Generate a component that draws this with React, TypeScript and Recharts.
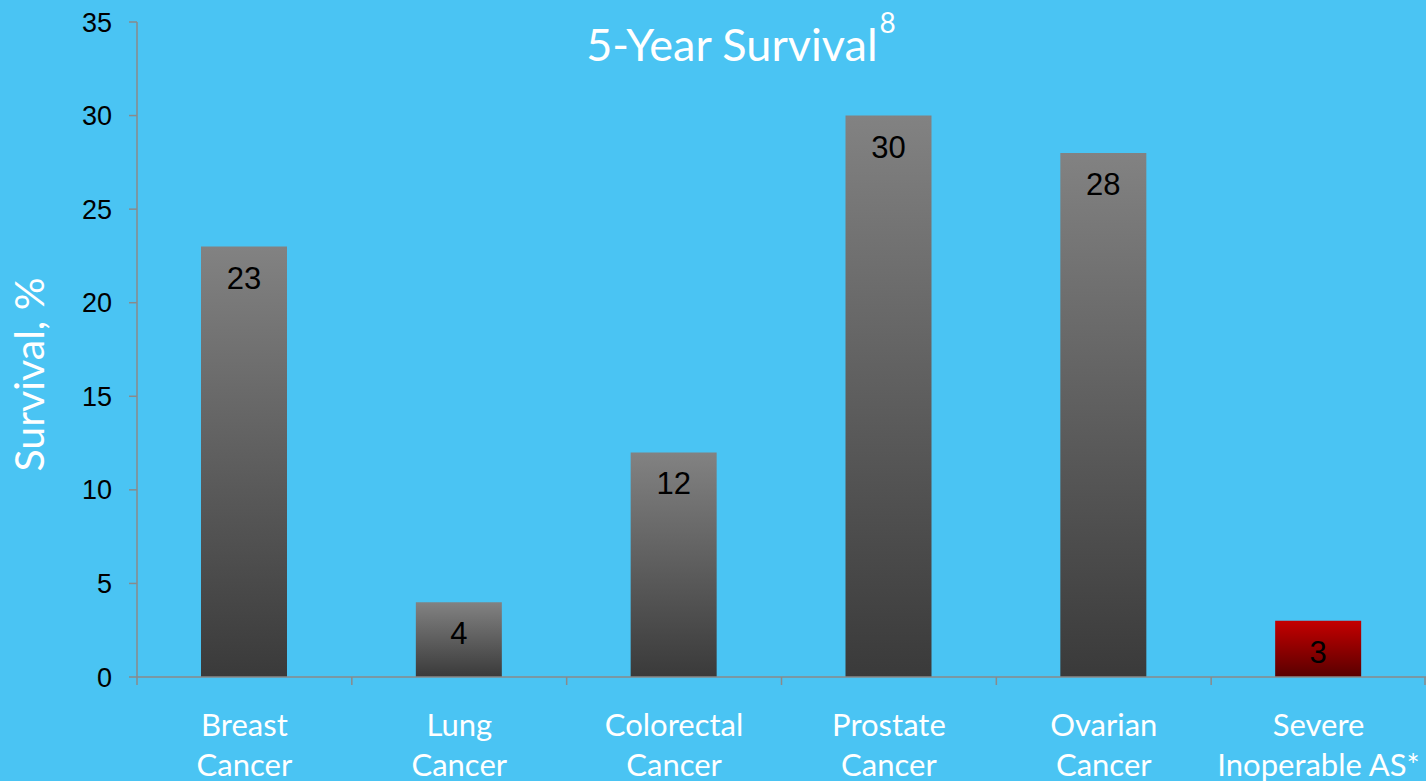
import { BarChart, Bar, XAxis, YAxis, Cell, LabelList } from 'recharts';

const categories = ['Breast\nCancer', 'Lung\nCancer', 'Colorectal\nCancer', 'Prostate\nCancer', 'Ovarian\nCancer', 'Severe\nInoperable AS*'];
const survival = [23, 4, 12, 30, 28, 3];
const highlighted = ['Severe\nInoperable AS*'];
const yTicks = [0, 5, 10, 15, 20, 25, 30, 35];

const data = categories.map((name, i) => ({ name, value: survival[i] }));

const BG = '#4AC4F3';
const AXIS = '#8a8a8a';
const W = 1426;
const H = 781;
const LEFT = 137;
const SANS = "Lato, 'Open Sans', sans-serif";

function CategoryTick(props: any) {
    const { x, y, payload, index, visibleTicksCount } = props;
    const half = payload.offset ?? (W - LEFT) / categories.length / 2;
    const lines = String(payload.value).split('\n');
    const isLast = index === (visibleTicksCount ?? categories.length) - 1;
    return (
        <g>
            <line x1={x - half} y1={y - 8} x2={x - half} y2={y} stroke={AXIS} strokeWidth={1.5} />
            {isLast && <line x1={x + half - 1} y1={y - 8} x2={x + half - 1} y2={y} stroke={AXIS} strokeWidth={1.5} />}
            <text x={x} y={y} textAnchor="middle" fill="#fff" fontFamily={SANS} fontSize={31}>
                {lines.map((l, i) => (
                    <tspan key={i} x={x} dy={i === 0 ? 51 : 40}>{l}</tspan>
                ))}
            </text>
        </g>
    );
}

function YLabel({ viewBox }: any) {
    const cx = 28;
    const cy = viewBox.y + viewBox.height / 2 + 25;
    return (
        <text x={cx} y={cy} transform={`rotate(-90, ${cx}, ${cy})`} textAnchor="middle" dominantBaseline="central"
            fill="#fff" fontFamily={SANS} fontSize={41}>
            Survival, %
        </text>
    );
}

export default function App() {
    return (
        <div style={{ position: 'absolute', left: 0, top: 0, width: W, height: H, background: BG, overflow: 'hidden' }}>
            <div style={{
                position: 'absolute', left: 0, width: W, top: 14, textAlign: 'center', paddingLeft: 28,
                color: '#fff', fontFamily: SANS, fontSize: 45, lineHeight: '60px'
            }}>
                5-Year Survival<sup style={{ fontSize: 28, verticalAlign: 'top', position: 'relative', top: -22, marginLeft: 2 }}>8</sup>
            </div>
            <BarChart width={W} height={H} data={data} margin={{ top: 22, right: 0, bottom: 0, left: 0 }} barSize={86}>
                <defs>
                    <linearGradient id="grayGrad" x1="0" y1="0" x2="0" y2="1">
                        <stop offset="0%" stopColor="#828282" />
                        <stop offset="100%" stopColor="#3a3a3a" />
                    </linearGradient>
                    <linearGradient id="redGrad" x1="0" y1="0" x2="0" y2="1">
                        <stop offset="0%" stopColor="#c40000" />
                        <stop offset="100%" stopColor="#580000" />
                    </linearGradient>
                </defs>
                <XAxis
                    dataKey="name"
                    height={104}
                    interval={0}
                    axisLine={{ stroke: AXIS, strokeWidth: 1.5 }}
                    tickLine={false}
                    tickSize={8}
                    tickMargin={0}
                    tick={<CategoryTick />}
                />
                <YAxis
                    width={LEFT}
                    domain={[0, 35]}
                    ticks={yTicks}
                    interval={0}
                    axisLine={{ stroke: AXIS, strokeWidth: 1.5 }}
                    tickLine={{ stroke: AXIS, strokeWidth: 1.5 }}
                    tickSize={8}
                    tickMargin={17}
                    tick={{ fill: '#000', fontSize: 27, fontFamily: "'Liberation Sans', Arial, sans-serif" }}
                    label={{ content: <YLabel /> }}
                />
                <Bar dataKey="value" isAnimationActive={false}>
                    {data.map((entry, index) => (
                        <Cell key={`cell-${index}`} fill={highlighted.includes(entry.name) ? 'url(#redGrad)' : 'url(#grayGrad)'} />
                    ))}
                    <LabelList
                        dataKey="value"
                        position="insideTop"
                        offset={20}
                        fill="#000"
                        fontSize={31}
                        fontFamily="'Liberation Sans', Arial, sans-serif"
                    />
                </Bar>
            </BarChart>
        </div>
    );
}
